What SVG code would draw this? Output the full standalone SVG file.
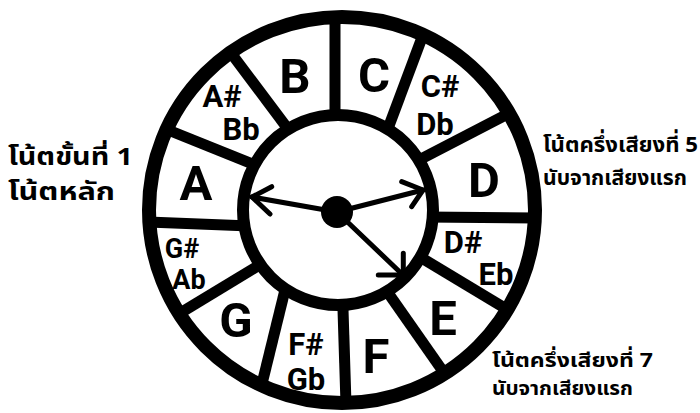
<svg xmlns="http://www.w3.org/2000/svg" width="700" height="413" viewBox="0 0 700 413">
  <style>
    .ring { fill: none; stroke: #000; }
    .spoke { stroke: #000; stroke-width: 11; stroke-linecap: butt; }
    .big { font-family: Roboto, "Liberation Sans", sans-serif; font-weight: 700; font-size: 49px; fill: #000; text-anchor: middle; }
    .small { font-family: Roboto, "Liberation Sans", sans-serif; font-weight: 700; font-size: 31px; fill: #000; text-anchor: middle; }
    .tight { font-size: 27px; }
    .thai { font-family: "Noto Sans Thai", "Noto Sans", "DejaVu Sans", sans-serif; font-weight: 700; fill: #000; }
    .arrow { fill: none; stroke: #000; stroke-width: 5; stroke-linecap: round; stroke-linejoin: round; }
  </style>
  <rect width="700" height="413" fill="#fff"/>

  <g id="spokes">
    <line class="spoke" x1="335" y1="16" x2="335" y2="125"/>
    <line class="spoke" x1="422.8" y1="35.5" x2="386" y2="133.7"/>
    <line class="spoke" x1="508.9" y1="113.4" x2="407.2" y2="166.2"/>
    <line class="spoke" x1="536" y1="218" x2="425" y2="217"/>
    <line class="spoke" x1="507.3" y1="309.6" x2="417.1" y2="255.2"/>
    <line class="spoke" x1="444.6" y1="373.6" x2="384.4" y2="287.7"/>
    <line class="spoke" x1="346" y1="404" x2="342.7" y2="300"/>
    <line class="spoke" x1="261.1" y1="387.4" x2="286.8" y2="282.6"/>
    <line class="spoke" x1="177" y1="315" x2="265.1" y2="261.6"/>
    <line class="spoke" x1="148" y1="222" x2="250" y2="226"/>
    <line class="spoke" x1="165.6" y1="129" x2="261.1" y2="167.5"/>
    <line class="spoke" x1="231" y1="53" x2="292.2" y2="134.6"/>
  </g>

  <g id="outer-ring">
    <circle class="ring" cx="342" cy="210" r="193" stroke-width="14"/>
  </g>
  <g id="inner-circle">
    <circle cx="338" cy="210" r="95" fill="#fff" stroke="#000" stroke-width="12"/>
  </g>

  <g id="note-B"><text class="big" x="295" y="93">B</text></g>
  <g id="note-C"><text class="big" x="374" y="92">C</text></g>
  <g id="note-Cs"><text class="small" x="440" y="97">C#</text><text class="small" x="435" y="135">Db</text></g>
  <g id="note-D"><text class="big" x="484" y="197">D</text></g>
  <g id="note-Ds"><text class="small" x="463" y="253">D#</text><text class="small" x="496" y="285">Eb</text></g>
  <g id="note-E"><text class="big" x="443" y="335">E</text></g>
  <g id="note-F"><text class="big" x="376" y="373">F</text></g>
  <g id="note-Fs"><text class="small" x="306" y="355">F#</text><text class="small" x="306" y="390">Gb</text></g>
  <g id="note-G"><text class="big" x="236" y="337">G</text></g>
  <g id="note-Gs"><text class="small tight" x="182" y="258">G#</text><text class="small tight" x="189" y="289">Ab</text></g>
  <g id="note-A"><text class="big" x="196" y="200">A</text></g>
  <g id="note-As"><text class="small" x="222" y="107">A#</text><text class="small" x="241" y="140">Bb</text></g>

  <g id="connectors">
    <circle cx="337" cy="212" r="16" fill="#000"/>
    <line class="arrow" x1="337" y1="212" x2="252" y2="197"/>
    <polyline class="arrow" points="271.7,186.7 252,197 270,214"/>
    <line class="arrow" x1="337" y1="212" x2="423" y2="190"/>
    <polyline class="arrow" points="401.7,181.7 423,190 411.7,206.7"/>
    <line class="arrow" x1="337" y1="212" x2="403" y2="275"/>
    <polyline class="arrow" points="403.3,253.3 403.3,275 378.3,275"/>
  </g>

  <g id="label-root">
    <text class="thai" x="8" y="165" font-size="24" textLength="125" lengthAdjust="spacingAndGlyphs">โน้ตขั้นที่ 1</text>
    <text class="thai" x="8" y="200" font-size="24" textLength="107" lengthAdjust="spacingAndGlyphs">โน้ตหลัก</text>
  </g>
  <g id="label-fifth">
    <text class="thai" x="543" y="152" font-size="22" textLength="155" lengthAdjust="spacingAndGlyphs">โน้ตครึ่งเสียงที่ 5</text>
    <text class="thai" x="543" y="185" font-size="22" textLength="144" lengthAdjust="spacingAndGlyphs">นับจากเสียงแรก</text>
  </g>
  <g id="label-seventh">
    <text class="thai" x="492" y="367" font-size="20" textLength="161" lengthAdjust="spacingAndGlyphs">โน้ตครึ่งเสียงที่ 7</text>
    <text class="thai" x="492" y="395" font-size="20" textLength="141" lengthAdjust="spacingAndGlyphs">นับจากเสียงแรก</text>
  </g>
</svg>
